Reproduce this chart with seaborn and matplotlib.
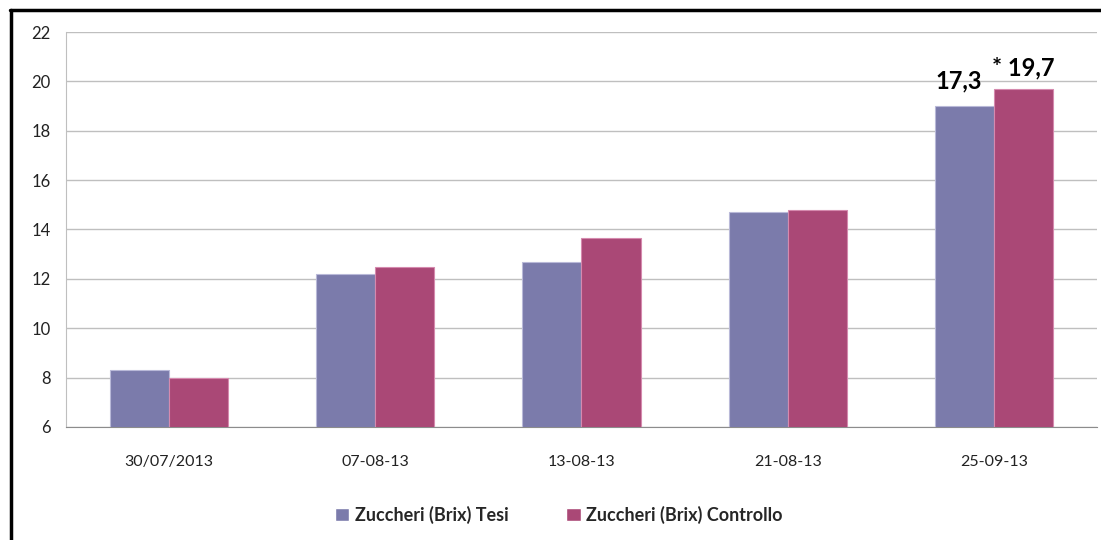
import pandas as pd
import matplotlib
matplotlib.use("Agg")
import matplotlib.pyplot as plt
from matplotlib.lines import Line2D
import seaborn as sns

# data
dates = ["30/07/2013", "07-08-13", "13-08-13", "21-08-13", "25-09-13"]
tesi = [8.3, 12.2, 12.7, 14.7, 19.0]
controllo = [8.0, 12.5, 13.65, 14.8, 19.7]
series_names = ["Zuccheri (Brix) Tesi", "Zuccheri (Brix) Controllo"]
last_labels = ["17,3", "* 19,7"]
y_ticks = [6, 8, 10, 12, 14, 16, 18, 20, 22]

colors = ["#7B7BAB", "#AA4876"]
edges = ["#B9B9D8", "#D58AAE"]

df = pd.DataFrame({
    "date": dates * 2,
    "value": tesi + controllo,
    "series": [series_names[0]] * len(dates) + [series_names[1]] * len(dates),
})

sns.set_style("white")
plt.rcParams["font.family"] = ["Lato", "DejaVu Sans"]

fig = plt.figure(figsize=(11.01, 5.40), dpi=100)
ax = fig.add_axes([0.0599, 0.2093, 0.9365, 0.7314])

sns.barplot(data=df, x="date", y="value", hue="series", palette=colors,
            width=0.573, gap=0, saturation=1, ax=ax, legend=True, zorder=3)

for cont, ec in zip(ax.containers, edges):
    for bar in cont:
        bar.set_edgecolor(ec)
        bar.set_linewidth(0.8)

ax.set_ylim(6, 22)
ax.set_yticks(y_ticks)
ax.set_xlim(-0.5, len(dates) - 0.5)
ax.set_xlabel("")
ax.set_ylabel("")
ax.yaxis.grid(True, color="#BFBFBF", linewidth=1.0, zorder=0)
ax.set_axisbelow(True)

for side in ["top", "right"]:
    ax.spines[side].set_visible(False)
ax.spines["left"].set_color("#BFBFBF")
ax.spines["bottom"].set_color("#8C8C8C")

ax.tick_params(axis="y", length=6, color="#BFBFBF", labelsize=12, labelcolor="#222222", pad=5)
ax.tick_params(axis="x", which="major", length=0, labelsize=11.5, labelcolor="#222222", pad=20)
ax.set_xticks([i - 0.5 for i in range(len(dates) + 1)], minor=True)
ax.tick_params(axis="x", which="minor", length=5, color="#8C8C8C")

# value labels above the last pair of bars
for cont, lab, off in zip(ax.containers, last_labels, [(-4, 10), (0, 7)]):
    bar = cont[-1]
    ax.annotate(lab, (bar.get_x() + bar.get_width() / 2, bar.get_height()),
                xytext=off, textcoords="offset points", ha="center", va="bottom",
                fontsize=17, fontweight="bold", color="black")

handles, labels = ax.get_legend_handles_labels()
ax.legend(handles, labels, loc="center", bbox_to_anchor=(0.478, -0.222), ncol=2,
          frameon=False, prop={"weight": "bold", "size": 13}, handlelength=0.8,
          handleheight=0.8, handletextpad=0.3, columnspacing=3.2)

# black frame at left and top
fig.add_artist(Line2D([0.0100, 0.0100], [0.0, 0.9815], color="black", linewidth=2.5,
                      transform=fig.transFigure))
fig.add_artist(Line2D([0.0090, 1.0], [0.9815, 0.9815], color="black", linewidth=2.5,
                      transform=fig.transFigure))

fig.savefig("out.png", dpi=100)
